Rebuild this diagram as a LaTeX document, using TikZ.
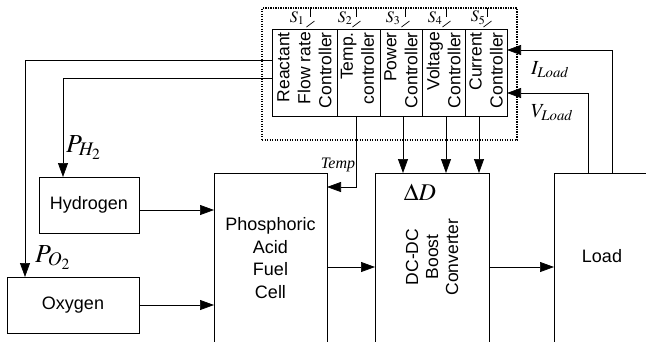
\documentclass[tikz,border=0pt]{standalone}
\usepackage{mathptmx}
\usepackage[no-math]{fontspec}
\setmainfont{Liberation Sans}
\newfontfamily\lserif{Liberation Serif}
\usetikzlibrary{arrows.meta,calc}
\begin{document}
\begin{tikzpicture}[x=1pt,y=-1pt,
  box/.style={draw, line width=0.8pt, inner sep=0pt, outer sep=0pt},
  arr/.style={-{Triangle[length=14pt,width=10pt]}, line width=0.7pt},
  ln/.style={line width=0.7pt},
  txt/.style={font=\fontsize{18}{22.7}\selectfont, align=center, inner sep=0pt},
  rot/.style={rotate=90, font=\fontsize{17.5}{21}\selectfont, align=right, inner sep=0pt, anchor=east},
  ml/.style={inner sep=0pt},
  swl/.style={inner sep=0pt, font=\fontsize{16}{16}\selectfont}
]
\useasboundingbox (0,0) rectangle (646,341);
\clip (0,0) rectangle (646,341);

% dotted controller group
\node[draw, dash pattern=on 1.2pt off 1.3pt, line width=1.1pt, minimum width=255pt, minimum height=132pt,
      anchor=north west, inner sep=0pt, outer sep=0pt] (grp) at (262,8) {};

% controller columns
\node[box, fill=white, minimum width=65pt, minimum height=87pt, anchor=north west] (c1) at (272,29) {};
\node[box, minimum width=43pt, minimum height=87pt, anchor=north west] (c2) at (337,29) {};
\node[box, minimum width=42pt, minimum height=87pt, anchor=north west] (c3) at (380,29) {};
\node[box, minimum width=43pt, minimum height=87pt, anchor=north west] (c4) at (422,29) {};
\node[box, minimum width=42pt, minimum height=87pt, anchor=north west] (c5) at (465,29) {};

\node[rot] (t1) at ($(c1.north)+(0,3)$) {Reactant\\Flow rate\\Controller};
\node[rot] (t2) at ($(c2.north)+(-1,3)$) {Temp.\\controller};
\node[rot] (t3) at ($(c3.north)+(0,3)$) {Power\\Controller};
\node[rot] (t4) at ($(c4.north)+(0,3)$) {Voltage\\Controller};
\node[rot] (t5) at ($(c5.north)+(0,3)$) {Current\\Controller};

% switches
\foreach \n/\x/\lx in {1/310/297, 2/356/345, 3/405/393, 4/446/435, 5/487/478}{
  \coordinate (sw\n) at (\x,8);
  \draw[ln] (sw\n) -- ++(0,9);
  \draw[ln] ($(sw\n)+(-3.5,19)$) -- ++(8,-6);
  \node[swl] (sl\n) at (\lx,18) {$S_{\n}$};
}

% blocks
\node[box, minimum width=100pt, minimum height=56pt, font=\fontsize{18}{22}\selectfont] (hyd) at (89,205) {Hydrogen};
\node[box, minimum width=132pt, minimum height=56pt, font=\fontsize{18}{22}\selectfont] (oxy) at (73,305) {Oxygen};
\node[box, minimum width=113pt, minimum height=200pt, anchor=north west] (fc) at (214,173) {};
\node[txt] (fct) at (270.5,258) {Phosphoric\\Acid\\Fuel\\Cell};
\node[box, minimum width=114pt, minimum height=200pt, anchor=north west] (conv) at (375,173) {};
\node[ml, font=\fontsize{24}{24}\selectfont] (dd) at (420,192) {$\Delta D$};
\node[rot, anchor=center, align=center, font=\fontsize{17.5}{20}\selectfont] (convt) at (432,257) {DC-DC\\Boost\\Converter};
\node[box, minimum width=120pt, minimum height=200pt, anchor=north west] (load) at (554,173) {};
\node[txt] (loadt) at (602,256) {Load};

% labels
\node[ml, font=\fontsize{26}{26}\selectfont, anchor=base west] (ph2) at (66,152) {$P_{H_2}$};
\node[ml, font=\fontsize{26}{26}\selectfont, anchor=base west] (po2) at (35,262) {$P_{O_2}$};
\node[ml, font=\fontsize{20}{20}\selectfont, anchor=base west] (il) at (531,74) {$I_{Load}$};
\node[ml, font=\fontsize{20}{20}\selectfont, anchor=base west] (vl) at (531,117) {$V_{Load}$};
\node[ml, font=\fontsize{16}{16}\selectfont\lserif\itshape] (tmp) at (338,165) {Temp};

% connector end points
\coordinate (rO) at ($(c1.north west)+(0,31)$);
\coordinate (rH) at ($(c1.north west)+(0,49)$);
\coordinate (oT) at ($(oxy.north west)+(18,0)$);
\coordinate (hT) at ($(hyd.north west)+(24,0)$);
\coordinate (hE) at ($(hyd.east)+(0,5)$);
\coordinate (tS) at ($(c2.south)+(-2.5,0)$);
\coordinate (fT) at ($(fc.north east)+(0,14)$);
\coordinate (fE) at ($(fc.north east)+(0,94)$);
\coordinate (cW) at ($(conv.north west)+(0,94)$);
\coordinate (cE) at ($(conv.north east)+(0,94)$);
\coordinate (lW) at ($(load.north west)+(0,94)$);
\coordinate (a3) at ($(c3.south)+(2,0)$);
\coordinate (a4) at ($(c4.south)+(2.5,0)$);
\coordinate (a5) at ($(c5.south)+(-7,0)$);
\coordinate (iS) at ($(load.north west)+(58,0)$);
\coordinate (vS) at ($(load.north west)+(34,0)$);
\coordinate (iT) at ($(c5.north east)+(0,21)$);
\coordinate (vT) at ($(c5.north east)+(0,64)$);

% connectors
\draw[arr] (rO) -| (oT);
\draw[arr] (rH) -| (hT);
\draw[arr] (hE) -- (hE -| fc.west);
\draw[arr] (oxy.east) -- (oxy.east -| fc.west);
\draw[arr] (tS) |- (fT);
\draw[arr] (fE) -- (cW);
\draw[arr] (cE) -- (lW);
\draw[arr] (a3) -- (a3 |- conv.north);
\draw[arr] (a4) -- (a4 |- conv.north);
\draw[arr] (a5) -- (a5 |- conv.north);
\draw[arr] (iS) |- (iT);
\draw[arr] (vS) |- (vT);
\end{tikzpicture}
\end{document}
